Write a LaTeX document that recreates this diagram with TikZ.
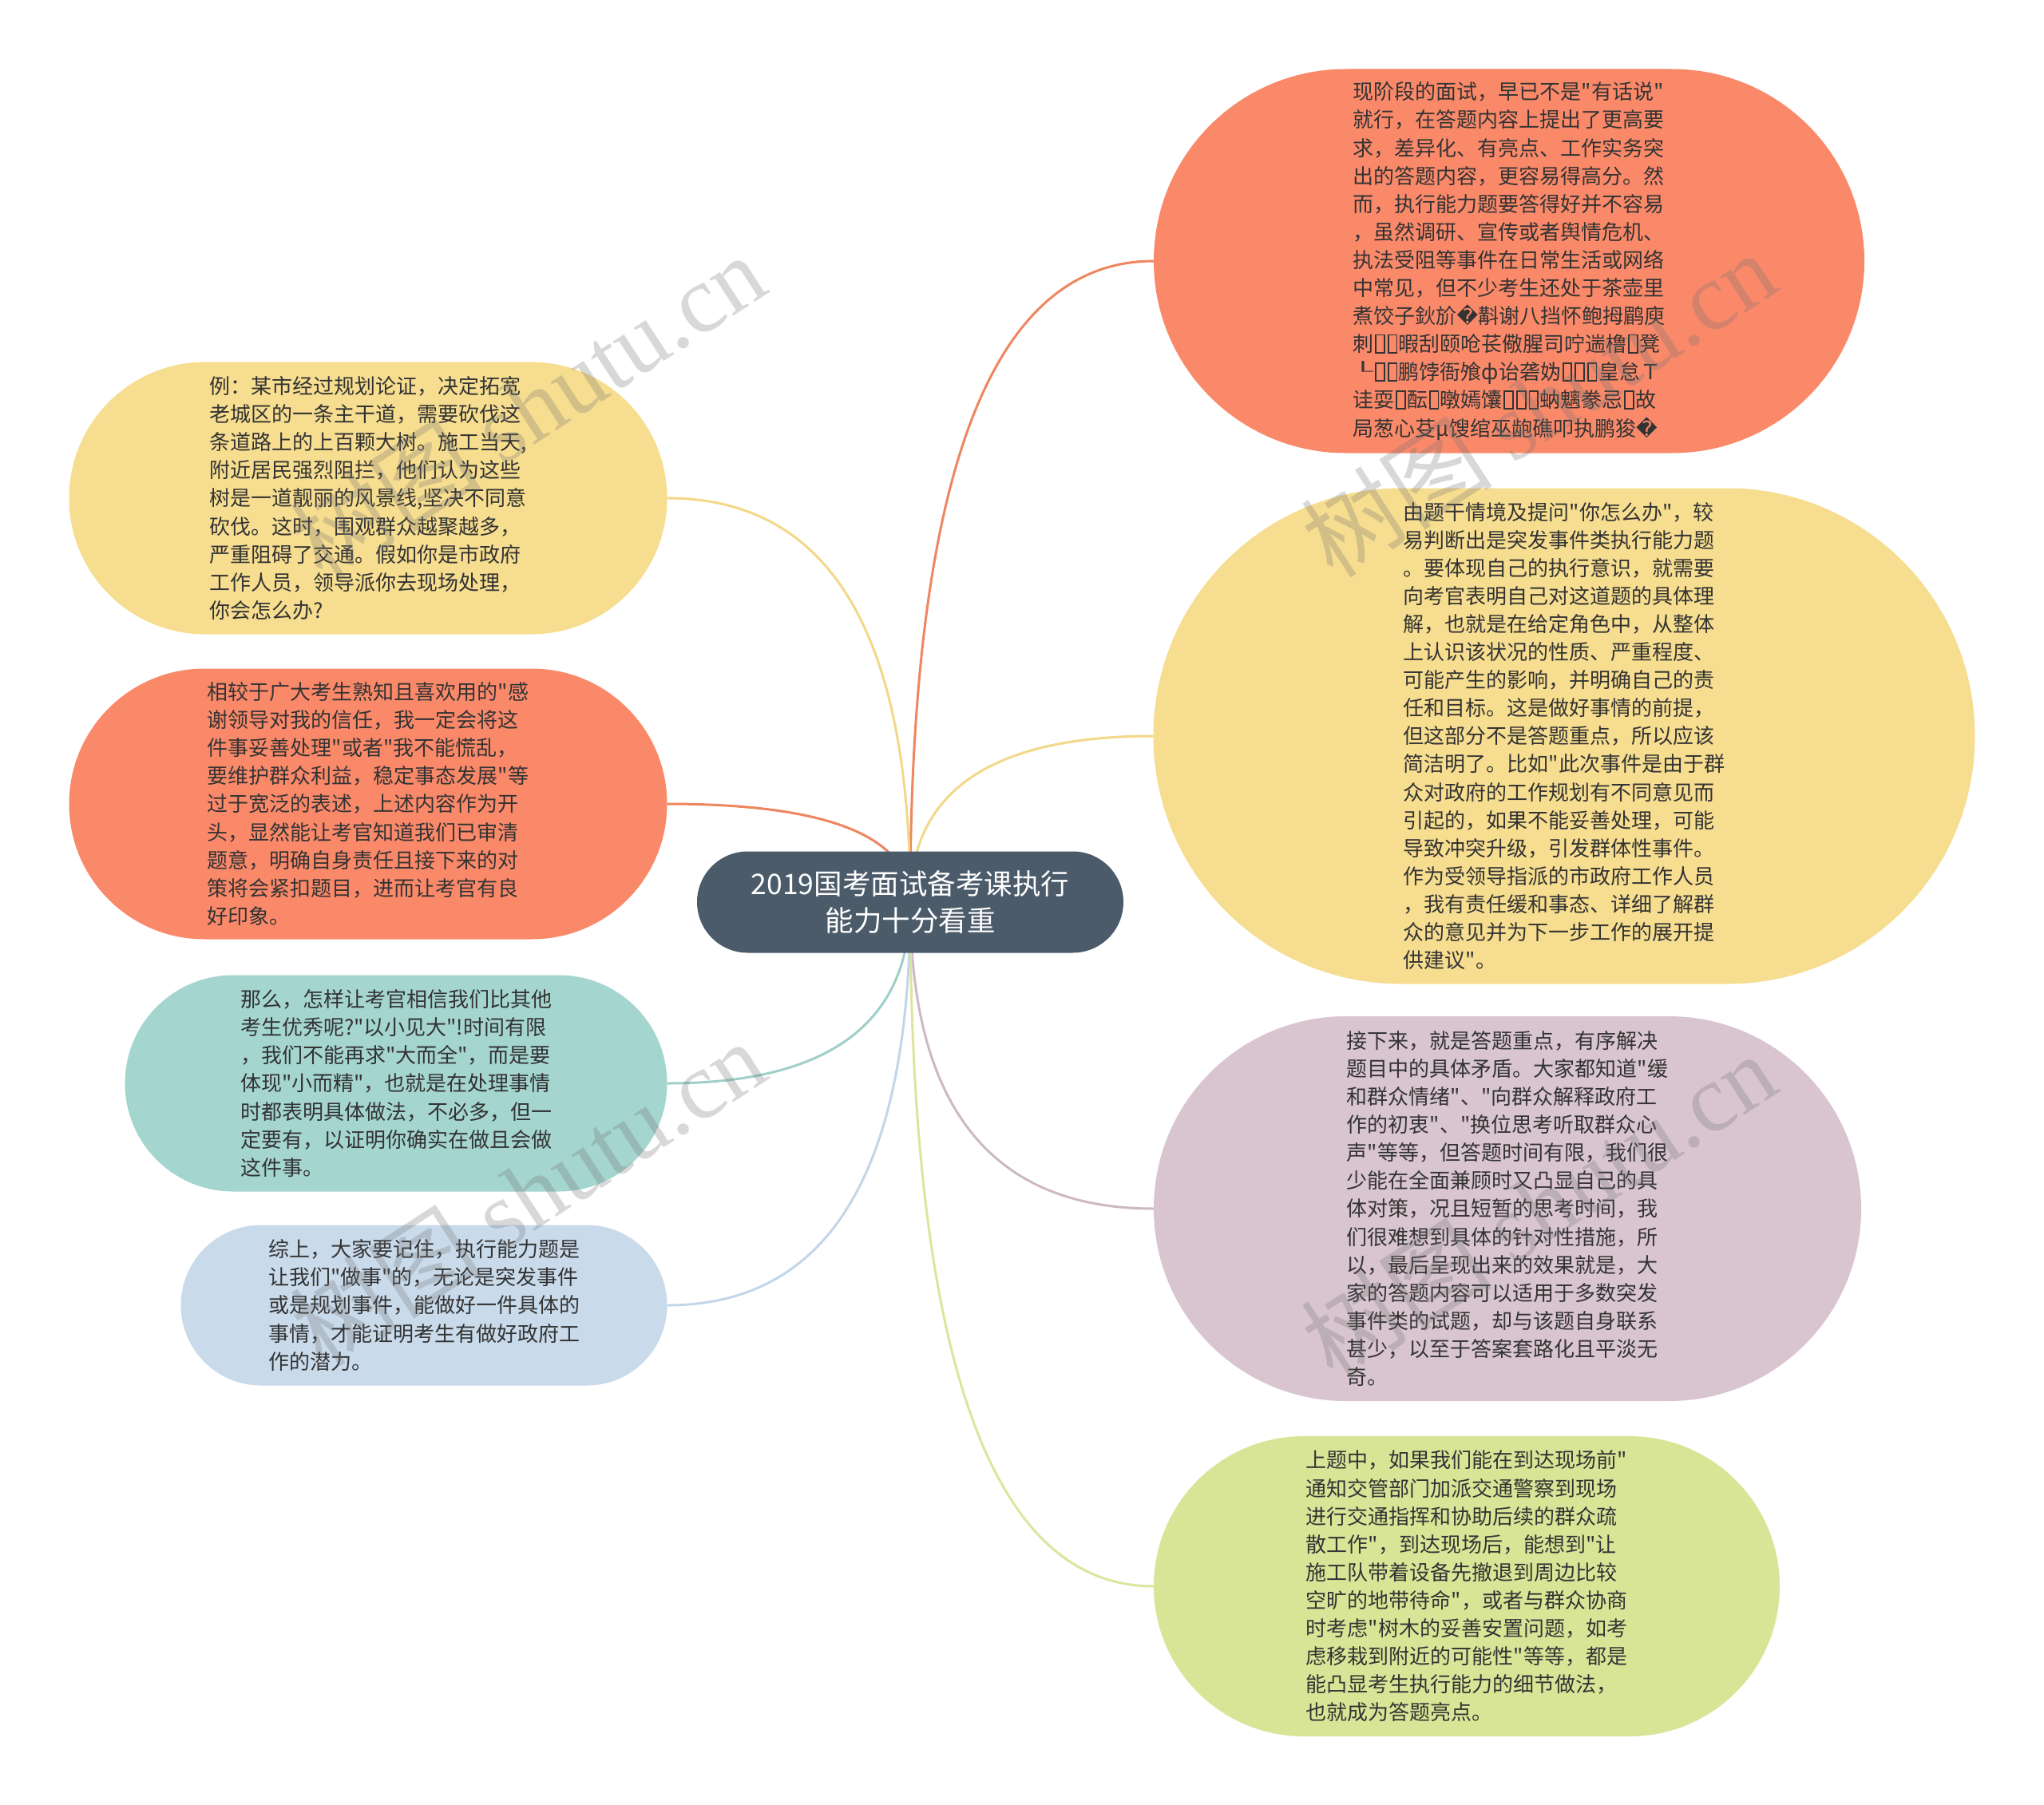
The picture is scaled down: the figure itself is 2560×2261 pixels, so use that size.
\documentclass[tikz,border=0pt]{standalone}
\usepackage{fontspec}
\setmainfont{Noto Sans CJK SC}[Ligatures=TeXOff]
\newfontfamily\dejavu{DejaVu Sans}
\newfontfamily\wmserif{Liberation Serif}
\usetikzlibrary{shapes.misc,backgrounds,calc}
\definecolor{txt}{HTML}{333333}
\definecolor{cOrange}{HTML}{FA896A}
\definecolor{cYellow}{HTML}{F6DD8F}
\definecolor{cTeal}{HTML}{A4D5CF}
\definecolor{cBlue}{HTML}{C9DAEA}
\definecolor{cMauve}{HTML}{D9C5CF}
\definecolor{cGreen}{HTML}{D8E597}
\definecolor{cCentral}{HTML}{4B5B6A}
\definecolor{eOrange}{HTML}{EE8660}
\definecolor{eYellow}{HTML}{F2D888}
\definecolor{eTeal}{HTML}{9ED0C9}
\definecolor{eBlue}{HTML}{C2D6EA}
\definecolor{eMauve}{HTML}{CDB9C4}
\definecolor{eGreen}{HTML}{DDE59D}
\newcommand\tofu{\hspace{0.06em}{\setlength\fboxsep{0pt}\setlength\fboxrule{0.07em}\fbox{\rule{0pt}{0.78em}\hspace{0.34em}}}\hspace{0.06em}}
\newcommand\repch{{\dejavu\char"FFFD}}
\newcommand\edgeR[2]{\draw[conn,#1] (c.center) .. controls ($(c.center)!0.667!(c.center |- #2.west)$) and ($(#2.west)!0.667!(c.center |- #2.west)$) .. (#2.west);}
\newcommand\edgeL[2]{\draw[conn,#1] (c.center) .. controls ($(c.center)!0.667!(c.center |- #2.east)$) and ($(#2.east)!0.667!(c.center |- #2.east)$) .. (#2.east);}
\tikzset{
  bubble/.style={rounded rectangle, draw=none, inner sep=0pt, align=left, text=txt,
    font=\fontsize{26}{35.1}\selectfont},
  central/.style={rounded rectangle, draw=none, inner sep=0pt, align=center, text=white,
    fill=cCentral, font=\fontsize{35.5}{46}\selectfont},
  conn/.style={line width=3pt},
  wm/.style={text=black!55, text opacity=0.28, font=\fontsize{120}{130}\selectfont, inner sep=0pt}
}
\begin{document}
\begin{tikzpicture}[x=1pt,y=-1pt]
\useasboundingbox (0,0) rectangle (2560,2261);

\node[central, minimum width=534pt, minimum height=127pt] (c) at (1140,1130)
  {2019国考面试备考课执行\\能力十分看重};

% right side
\node[bubble, fill=cOrange, minimum width=890pt, minimum height=481pt] (tr) at (1890,327) {%
现阶段的面试，早已不是"有话说"\\
就行，在答题内容上提出了更高要\\
求，差异化、有亮点、工作实务突\\
出的答题内容，更容易得高分。然\\
而，执行能力题要答得好并不容易\\
，虽然调研、宣传或者舆情危机、\\
执法受阻等事件在日常生活或网络\\
中常见，但不少考生还处于茶壶里\\
煮饺子鈥斺\repch 斠谢八挡怀鲍拇鹛庾\\
刺\tofu\tofu 暇刮颐呛苌儆腥司咛遄橹\tofu 凳\\
┖\tofu\tofu 鹏饽衙飧ф诒砻妫\tofu\tofu\tofu 皇怠Ｔ\\
诖耍\tofu 酝\tofu 暾嫣馕\tofu\tofu\tofu 蚋魑豢忌\tofu 故\\
局葱心芟μ馊绾巫龅礁叩执鹏狻\repch};

\node[bubble, fill=cYellow, minimum width=1029pt, minimum height=621pt] (ry) at (1959,922) {%
由题干情境及提问"你怎么办"，较\\
易判断出是突发事件类执行能力题\\
。要体现自己的执行意识，就需要\\
向考官表明自己对这道题的具体理\\
解，也就是在给定角色中，从整体\\
上认识该状况的性质、严重程度、\\
可能产生的影响，并明确自己的责\\
任和目标。这是做好事情的前提，\\
但这部分不是答题重点，所以应该\\
简洁明了。比如"此次事件是由于群\\
众对政府的工作规划有不同意见而\\
引起的，如果不能妥善处理，可能\\
导致冲突升级，引发群体性事件。\\
作为受领导指派的市政府工作人员\\
，我有责任缓和事态、详细了解群\\
众的意见并为下一步工作的展开提\\
供建议"。};

\node[bubble, fill=cMauve, minimum width=886pt, minimum height=482pt] (rm) at (1888,1514) {%
接下来，就是答题重点，有序解决\\
题目中的具体矛盾。大家都知道"缓\\
和群众情绪"、"向群众解释政府工\\
作的初衷"、"换位思考听取群众心\\
声"等等，但答题时间有限，我们很\\
少能在全面兼顾时又凸显自己的具\\
体对策，况且短暂的思考时间，我\\
们很难想到具体的针对性措施，所\\
以，最后呈现出来的效果就是，大\\
家的答题内容可以适用于多数突发\\
事件类的试题，却与该题自身联系\\
甚少，以至于答案套路化且平淡无\\
奇。};

\node[bubble, fill=cGreen, minimum width=784pt, minimum height=376pt] (rg) at (1837,1987) {%
上题中，如果我们能在到达现场前"\\
通知交管部门加派交通警察到现场\\
进行交通指挥和协助后续的群众疏\\
散工作"，到达现场后，能想到"让\\
施工队带着设备先撤退到周边比较\\
空旷的地带待命"，或者与群众协商\\
时考虑"树木的妥善安置问题，如考\\
虑移栽到附近的可能性"等等，都是\\
能凸显考生执行能力的细节做法，\\
也就成为答题亮点。};

% left side
\node[bubble, fill=cYellow, minimum width=749pt, minimum height=341pt] (ly) at (461,624) {%
例：某市经过规划论证，决定拓宽\\
老城区的一条主干道，需要砍伐这\\
条道路上的上百颗大树。施工当天,\\
附近居民强烈阻拦，他们认为这些\\
树是一道靓丽的风景线,坚决不同意\\
砍伐。这时，围观群众越聚越多，\\
严重阻碍了交通。假如你是市政府\\
工作人员，领导派你去现场处理，\\
你会怎么办?};

\node[bubble, fill=cOrange, minimum width=749pt, minimum height=339pt] (lo) at (461,1007) {%
相较于广大考生熟知且喜欢用的"感\\
谢领导对我的信任，我一定会将这\\
件事妥善处理"或者"我不能慌乱，\\
要维护群众利益，稳定事态发展"等\\
过于宽泛的表述，上述内容作为开\\
头，显然能让考官知道我们已审清\\
题意，明确自身责任且接下来的对\\
策将会紧扣题目，进而让考官有良\\
好印象。};

\node[bubble, fill=cTeal, minimum width=679pt, minimum height=271pt] (lt) at (496,1357) {%
那么，怎样让考官相信我们比其他\\
考生优秀呢?"以小见大"!时间有限\\
，我们不能再求"大而全"，而是要\\
体现"小而精"，也就是在处理事情\\
时都表明具体做法，不必多，但一\\
定要有，以证明你确实在做且会做\\
这件事。};

\node[bubble, fill=cBlue, minimum width=609pt, minimum height=201pt] (lb) at (531,1635) {%
综上，大家要记住，执行能力题是\\
让我们"做事"的，无论是突发事件\\
或是规划事件，能做好一件具体的\\
事情，才能证明考生有做好政府工\\
作的潜力。};

\begin{pgfonlayer}{background}
\fill[white] (0,0) rectangle (2560,2261);
\edgeR{eOrange}{tr}
\edgeR{eYellow}{ry}
\edgeR{eMauve}{rm}
\edgeR{eGreen}{rg}
\edgeL{eYellow}{ly}
\edgeL{eOrange}{lo}
\edgeL{eTeal}{lt}
\edgeL{eBlue}{lb}
\end{pgfonlayer}

% watermarks
\node[wm, rotate=33] (w1) at (661,509) {树图 {\wmserif shutu.cn}};
\node[wm, rotate=33] (w2) at (1927,506) {树图 {\wmserif shutu.cn}};
\node[wm, rotate=33] (w3) at (661,1494) {树图 {\wmserif shutu.cn}};
\node[wm, rotate=33] (w4) at (1927,1510) {树图 {\wmserif shutu.cn}};
\end{tikzpicture}
\end{document}
